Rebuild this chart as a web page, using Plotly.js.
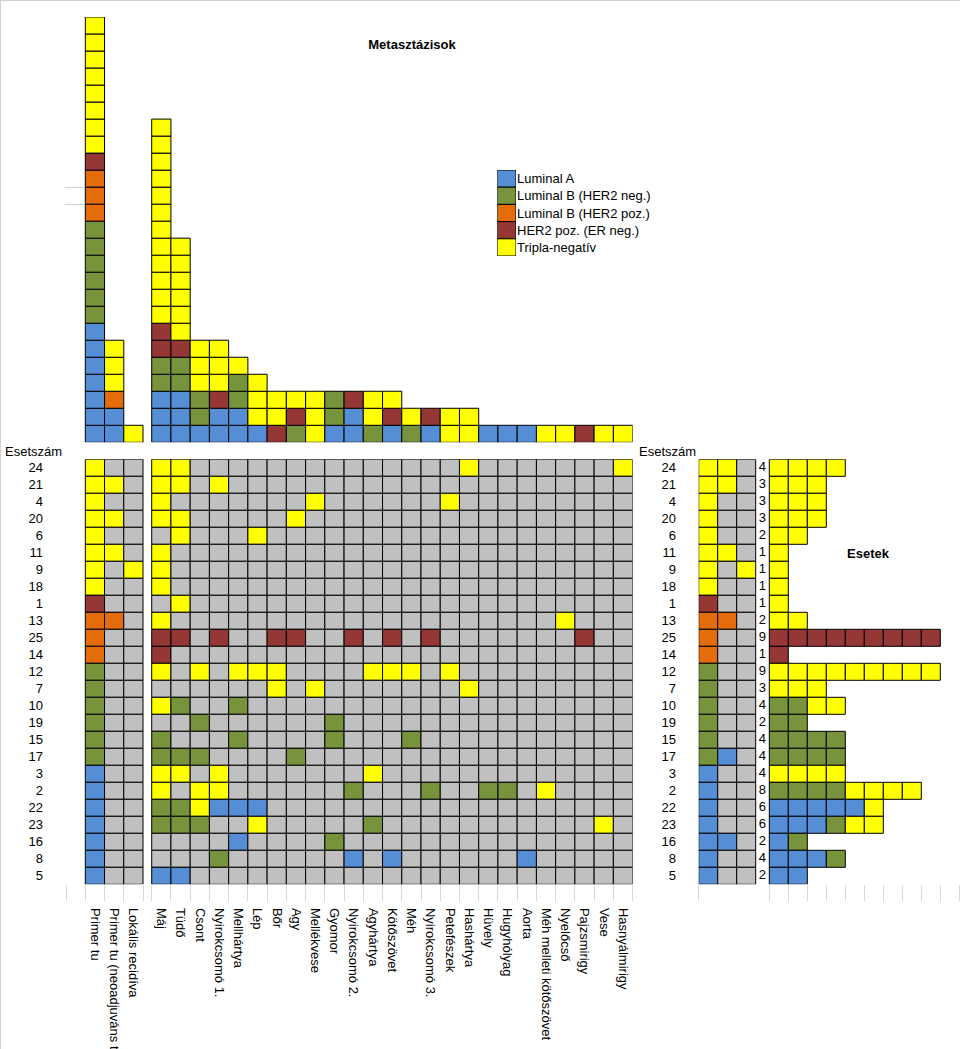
<!DOCTYPE html>
<html><head><meta charset="utf-8">
<script src="https://cdn.plot.ly/plotly-3.0.1.min.js"></script>
<style>html,body{margin:0;padding:0;background:#fff}#chart{width:960px;height:1049px}</style>
</head><body><div id="chart"></div>
<script>
// ---------- DATA ----------
// subtype codes: A = Luminal A, B = Luminal B (HER2 neg.), P = Luminal B (HER2 poz.),
// H = HER2 poz. (ER neg.), T = Tripla-negatív, '-' = nincs
const subtypeCodes = ['A','B','P','H','T'];
const subtypeNames = ['Luminal A','Luminal B (HER2 neg.)','Luminal B (HER2 poz.)','HER2 poz. (ER neg.)','Tripla-negatív'];

const caseIds = ['24','21','4','20','6','11','9','18','1','13','25','14','12','7','10','19','15','17','3','2','22','23','16','8','5'];
const primaryCols = ['Primer tu','Primer tu (neoadjuváns terápia után)','Lokális recidíva'];
const metaSites = ['Máj','Tüdő','Csont','Nyirokcsomó 1.','Mellhártya','Lép','Bőr','Agy','Mellékvese','Gyomor',
  'Nyirokcsomó 2.','Agyhártya','Kötőszövet','Méh','Nyirokcsomó 3.','Petefészek','Hashártya','Hüvely','Hugyhólyag',
  'Aorta','Méh melleti kötőszövet','Nyelőcső','Pajzsmirigy','Vese','Hasnyálmirigy'];

// main grid, one entry per case (top to bottom)
const primaryLeft = ['T--','TT-','T--','TT-','T--','TT-','T-T','T--','H--','PP-','P--','P--','B--','B--','B--','B--','B--','B--','A--','A--','A--','A--','A--','A--','A--'];
const metaGrid = [
  'TT--------------T-------T',
  'TT-T---------------------',
  'T-------T------T---------',
  'TT-----T-----------------',
  '-T---T-------------------',
  'T------------------------',
  'T------------------------',
  'T------------------------',
  '-T-----------------------',
  'T--------------------T---',
  'HH-H--HH--H-H-H-------H--',
  'H------------------------',
  'T-T-TTT----TTT-T---------',
  '------T-T-------T--------',
  'TB--B--------------------',
  '--B------B---------------',
  'B---B----B---B-----------',
  'BBB----B-----------------',
  'TT-T-------T-------------',
  'T-TT------B---B--BB-T----',
  'BBTAAA-------------------',
  'BBB--T-----B-----------T-',
  '----A----B---------------',
  '---B------A-A------A-----',
  'AA-----------------------'
];

// top stacks (bottom to top)
const primaryStacks = ['AAAAAAABBBBBBPPPHTTTTTTTT','AAPTTT','T'];
const metaStacks = ['AAABBHHTTTTTTTTTTTT','AAABBHTTTTTT','ABBTTT','AAHTTT','AABBT','ATTT','HTT','BHT','TTT','ABB',
  'AAH','BTT','AHT','BT','AH','TT','TT','A','A','A','T','T','H','T','T'];

// right panel ("Esetek")
const primaryRight = ['TT-','TT-','T--','T--','T--','TT-','T-T','T--','H--','PP-','P--','P--','B--','B--','B--','B--','B--','BA-','A--','A--','A--','A--','AA-','A--','A--'];
const caseCounts = [4,3,3,3,2,1,1,1,1,2,9,1,9,3,4,2,4,4,4,8,6,6,2,4,2];
const caseBars = ['TTTT','TTT','TTT','TTT','TT','T','T','T','T','TT','HHHHHHHHH','H','TTTTTTTTT','TTT','BBTT','BB','BBBB','BBBB','TTTT','BBBBTTTT','AAAAAT','AAABTT','AB','AAAB','AA'];

// ---------- STYLE / GEOMETRY ----------
const subtypeColors = ['#558ED5','#77933C','#E46C0A','#953735','#FFFF00'];
const absentColor = '#C0C0C0';
const W = 960, H = 1049;
const fx = p => p / W;
const fy = p => 1 - p / H;
const META_OFF = 3.452;      // centre of first metastasis column (main axis units)
const RIGHT_BAR_OFF = 3.716; // centre of first "Esetek" cell (right axis units)
const RIGHT_COUNT_X = 2.858;

function colorOf(c) { const i = subtypeCodes.indexOf(c); return i >= 0 ? subtypeColors[i] : absentColor; }
const nRows = caseIds.length;
const rowY = caseIds.map((_, i) => nRows - 1 - i);
const cellLine = {color: '#000', width: 1};

// main grid
const gx = [], gb = [], gc = [];
caseIds.forEach((id, i) => {
  primaryLeft[i].split('').forEach((c, j) => { gx.push(j); gb.push(rowY[i] - 0.5); gc.push(colorOf(c)); });
  metaGrid[i].split('').forEach((c, k) => { gx.push(META_OFF + k); gb.push(rowY[i] - 0.5); gc.push(colorOf(c)); });
});
// top stacks
const sx = [], sb = [], sc = [];
primaryStacks.forEach((s, j) => s.split('').forEach((c, l) => { sx.push(j); sb.push(l); sc.push(colorOf(c)); }));
metaStacks.forEach((s, k) => s.split('').forEach((c, l) => { sx.push(META_OFF + k); sb.push(l); sc.push(colorOf(c)); }));
// right panel
const rx = [], rb = [], rc = [];
caseIds.forEach((id, i) => {
  primaryRight[i].split('').forEach((c, j) => { rx.push(j); rb.push(rowY[i] - 0.5); rc.push(colorOf(c)); });
  caseBars[i].split('').forEach((c, k) => { rx.push(RIGHT_BAR_OFF + k); rb.push(rowY[i] - 0.5); rc.push(colorOf(c)); });
});

const ones = a => a.map(() => 1);
const traces = [
  {type:'bar', x:gx, y:ones(gx), base:gb, width:1, marker:{color:gc, line:cellLine}, xaxis:'x', yaxis:'y', hoverinfo:'skip', name:'Esetek'},
  {type:'bar', x:sx, y:ones(sx), base:sb, width:1, marker:{color:sc, line:cellLine}, xaxis:'x', yaxis:'y2', hoverinfo:'skip', name:'Metasztázisok'},
  {type:'bar', x:rx, y:ones(rx), base:rb, width:1, marker:{color:rc, line:cellLine}, xaxis:'x3', yaxis:'y4', hoverinfo:'skip', name:'Esetek'},
  {type:'scatter', mode:'text', x:caseIds.map(() => RIGHT_COUNT_X), y:rowY, text:caseCounts.map(String),
   textfont:{size:13, color:'#000'}, xaxis:'x3', yaxis:'y4', hoverinfo:'skip', cliponaxis:false},
  {type:'bar', x:subtypeNames.map(() => 0), y:ones(subtypeNames), base:subtypeNames.map((_, i) => subtypeNames.length - 1 - i - 0.5),
   width:1, marker:{color:subtypeColors, line:cellLine}, xaxis:'x5', yaxis:'y5', hoverinfo:'skip'}
];

const mainTickVals = [0,1,2].concat(metaSites.map((_, k) => META_OFF + k));
const mainMinor = [-1.5,-0.5,0.5,1.5,2.5].concat(Array.from({length: metaSites.length + 1}, (_, k) => META_OFF - 0.5 + k));
const rightMinor = [-0.5].concat(Array.from({length: 11}, (_, k) => RIGHT_BAR_OFF - 0.5 + k));
const noGrid = {showgrid:false, zeroline:false, showline:false, fixedrange:true};
const rowDomain = [fy(884.3), fy(459.3)];

const layout = {
  width: W, height: H, margin:{l:0, r:0, t:0, b:0},
  paper_bgcolor:'#ffffff', plot_bgcolor:'rgba(0,0,0,0)',
  font:{family:'"Liberation Sans", Arial, sans-serif', size:13, color:'#000'},
  barmode:'overlay', showlegend:false,
  title:{text:'<b>Metasztázisok</b>', x:fx(412), y:fy(44), xref:'paper', yref:'paper', xanchor:'center', yanchor:'middle', font:{size:13, color:'#000'}},
  xaxis: Object.assign({}, noGrid, {
    domain:[fx(85.3 - 19.236), fx(632.6)], range:[-1.5, META_OFF + 24.5], anchor:'y',
    tickmode:'array', tickvals:mainTickVals, ticktext:primaryCols.concat(metaSites), tickangle:90,
    ticks:'outside', ticklen:20, tickcolor:'rgba(0,0,0,0)', tickfont:{size:13},
    minor:{tickmode:'array', tickvals:mainMinor, ticks:'outside', ticklen:16, tickwidth:1, tickcolor:'#D9D9D9', showgrid:false}
  }),
  yaxis: Object.assign({}, noGrid, {
    domain:rowDomain, range:[-0.5, nRows - 0.5], anchor:'free', position:fx(43),
    tickmode:'array', tickvals:rowY, ticktext:caseIds, ticks:'', tickfont:{size:13}
  }),
  yaxis2: Object.assign({}, noGrid, {
    domain:[fy(442.3), fy(17)], range:[0, 25], anchor:'free', position:fx(85.3),
    tickmode:'array', tickvals:[14, 15], ticks:'outside', ticklen:20, tickcolor:'#D0D0D0', showticklabels:false
  }),
  xaxis3: Object.assign({}, noGrid, {
    domain:[fx(698.7), 1], range:[-0.5, -0.5 + (W - 698.7) / 19], anchor:'y4',
    tickmode:'array', tickvals:[], showticklabels:false, ticks:'',
    minor:{tickmode:'array', tickvals:rightMinor, ticks:'outside', ticklen:16, tickwidth:1, tickcolor:'#D9D9D9', showgrid:false}
  }),
  yaxis4: Object.assign({}, noGrid, {
    domain:rowDomain, range:[-0.5, nRows - 0.5], anchor:'free', position:fx(676),
    tickmode:'array', tickvals:rowY, ticktext:caseIds, ticks:'', tickfont:{size:13}
  }),
  xaxis5: Object.assign({}, noGrid, {domain:[fx(497.3), fx(516)], range:[-0.5, 0.5], anchor:'y5', visible:false}),
  yaxis5: Object.assign({}, noGrid, {
    domain:[fy(256), fy(170)], range:[-0.5, subtypeNames.length - 0.5], anchor:'x5', side:'right',
    tickmode:'array', tickvals:subtypeNames.map((_, i) => subtypeNames.length - 1 - i), ticktext:subtypeNames, ticks:'', tickfont:{size:13}
  }),
  annotations:[
    {text:'Esetszám', xref:'paper', yref:'paper', x:fx(33), y:fy(451), xanchor:'center', yanchor:'middle', showarrow:false, font:{size:13}},
    {text:'Esetszám', xref:'paper', yref:'paper', x:fx(667), y:fy(451), xanchor:'center', yanchor:'middle', showarrow:false, font:{size:13}},
    {text:'<b>Esetek</b>', xref:'paper', yref:'paper', x:fx(868), y:fy(553), xanchor:'center', yanchor:'middle', showarrow:false, font:{size:13}}
  ],
  shapes:[
    {type:'line', xref:'paper', yref:'paper', x0:0, x1:1, y0:fy(0.5), y1:fy(0.5), line:{color:'#D0D0D0', width:1}},
    {type:'line', xref:'paper', yref:'paper', x0:fx(0.5), x1:fx(0.5), y0:0, y1:1, line:{color:'#D0D0D0', width:1}}
  ]
};

Plotly.newPlot('chart', traces, layout, {displayModeBar:false, staticPlot:true});
</script>
</body></html>
